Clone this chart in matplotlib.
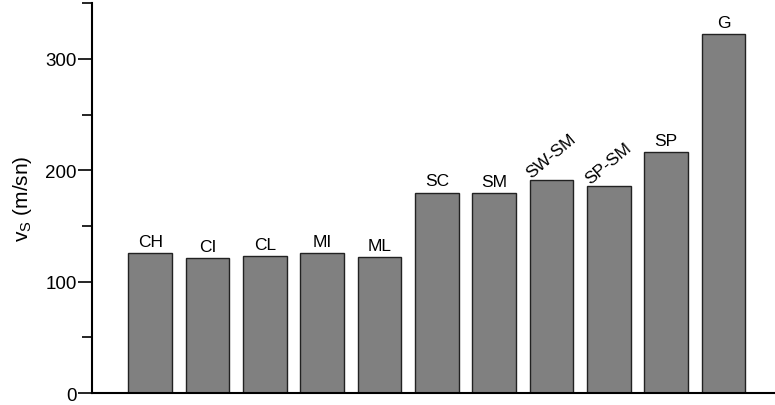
import numpy as np
import matplotlib
matplotlib.use("Agg")
import matplotlib.pyplot as plt
from matplotlib.ticker import MultipleLocator

plt.rcParams['font.family'] = ['Liberation Sans', 'DejaVu Sans']
plt.rcParams['mathtext.fontset'] = 'custom'
plt.rcParams['mathtext.rm'] = 'Liberation Sans'
plt.rcParams['mathtext.it'] = 'Liberation Sans'

# soil classes and shear wave velocities
soil_classes = ["CH", "CI", "CL", "MI", "ML", "SC", "SM", "SW-SM", "SP-SM", "SP", "G"]
vs_values = [126, 121, 123, 126, 122, 180, 179.5, 191, 186, 216.5, 322.5]
label_rotation = [0, 0, 0, 0, 0, 0, 0, 40, 40, 0, 0]

fig = plt.figure(figsize=(7.75, 4.06), dpi=100)
ax = fig.add_axes([0.119, 0.029, 0.881, 0.961])

x = np.arange(len(soil_classes))
bars = ax.bar(x, vs_values, width=0.76, color="#808080",
              edgecolor="#222222", linewidth=1.0)

for xi, v, name, rot in zip(x, vs_values, soil_classes, label_rotation):
    if rot:
        ax.annotate(name, (xi, v), xytext=(0, 0), textcoords="offset points",
                    ha="center", va="bottom", rotation=rot, fontsize=12.5)
    else:
        ax.annotate(name, (xi, v), xytext=(0, 3), textcoords="offset points",
                    ha="center", va="bottom", fontsize=12.5)

ax.set_xlim(-1.01, 10.9)
ax.set_ylim(0, 350)
ax.yaxis.set_major_locator(MultipleLocator(100))
ax.yaxis.set_minor_locator(MultipleLocator(50))
ax.tick_params(axis="y", which="major", length=10, width=1.2, labelsize=13.5, pad=1)
ax.tick_params(axis="y", which="minor", length=7, width=1.2)
ax.set_xticks([])

for side in ("top", "right"):
    ax.spines[side].set_visible(False)
ax.spines["left"].set_linewidth(1.5)
ax.spines["bottom"].set_linewidth(1.5)

ax.set_ylabel(r"v$_\mathrm{S}$ (m/sn)", fontsize=15, labelpad=8)

fig.savefig("out.png", dpi=100)
